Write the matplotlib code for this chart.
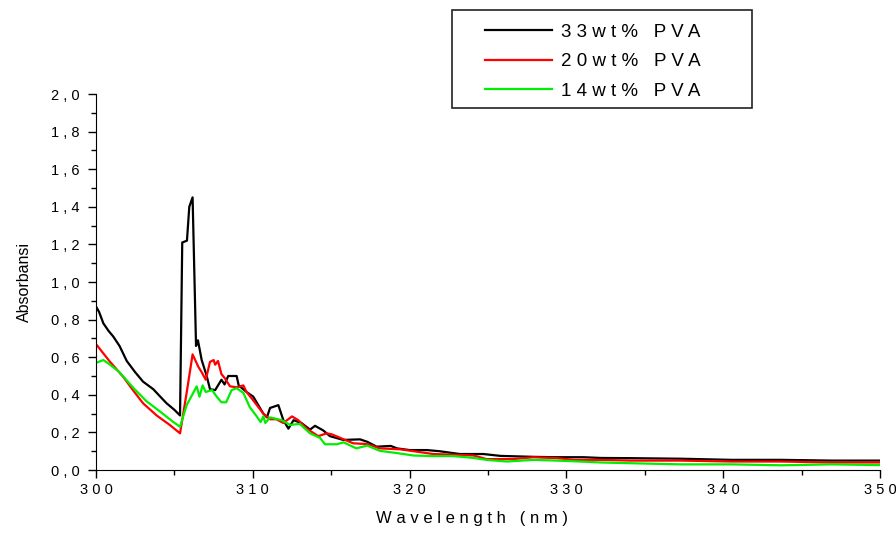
"""Absorbance spectra of PVA samples (33 / 20 / 14 wt%)."""
import matplotlib
matplotlib.use("Agg")
import matplotlib.pyplot as plt
from matplotlib.patches import Rectangle
from matplotlib.ticker import MultipleLocator, FuncFormatter

plt.rcParams["font.family"] = ["Liberation Sans", "DejaVu Sans"]

# wavelength (nm) / absorbance
wl_33 = [300.0, 300.2, 300.47, 300.8, 301.1, 301.5, 301.96, 302.5, 303.0, 303.65, 304.1, 304.5,
         305.0, 305.36, 305.5, 305.8, 305.95, 306.16, 306.38, 306.5, 306.74, 307.06, 307.27,
         307.6, 308.0, 308.2, 308.43, 308.97, 309.1, 309.6, 310.03, 310.67, 310.9, 311.1,
         311.63, 311.95, 312.27, 312.6, 313.1, 313.65, 313.97, 314.5, 314.92, 315.77, 316.84,
         317.3, 317.9, 318.8, 319.2, 320.0, 321.1, 321.9, 323.2, 324.7, 325.8, 327.9, 329.2,
         331.1, 332.2, 334.1, 337.3, 340.5, 343.7, 346.9, 350.0]
abs_33 = [0.87, 0.84, 0.78, 0.74, 0.71, 0.66, 0.58, 0.52, 0.47, 0.43, 0.39, 0.355,
          0.32, 0.29, 1.21, 1.22, 1.40, 1.45, 0.66, 0.69, 0.585, 0.50, 0.43,
          0.425, 0.48, 0.455, 0.50, 0.50, 0.45, 0.415, 0.39, 0.30, 0.28, 0.33,
          0.345, 0.265, 0.22, 0.265, 0.25, 0.215, 0.235, 0.21, 0.18, 0.16, 0.163,
          0.15, 0.124, 0.128, 0.115, 0.106, 0.106, 0.10, 0.085, 0.085, 0.075, 0.07, 0.068,
          0.068, 0.064, 0.063, 0.06, 0.054, 0.054, 0.05, 0.05]

wl_20 = [300.0, 300.47, 300.9, 301.74, 302.4, 303.0, 303.87, 304.7, 305.36, 305.78, 306.16,
         306.52, 306.74, 307.0, 307.27, 307.5, 307.6, 307.78, 308.0, 308.2, 308.55, 308.97,
         309.4, 309.6, 310.03, 310.67, 311.1, 311.5, 311.95, 312.5, 312.9, 313.44, 314.18,
         314.7, 315.03, 315.8, 316.4, 317.3, 318.1, 319.4, 320.25, 321.5, 322.6, 324.1,
         324.9, 326.6, 327.9, 329.4, 330.5, 332.2, 334.1, 337.3, 340.5, 343.7, 346.9, 350.0]
abs_20 = [0.67, 0.62, 0.575, 0.495, 0.42, 0.355, 0.29, 0.24, 0.195, 0.41, 0.615,
          0.55, 0.52, 0.48, 0.575, 0.585, 0.56, 0.58, 0.51, 0.49, 0.445, 0.44,
          0.45, 0.415, 0.37, 0.30, 0.27, 0.27, 0.25, 0.285, 0.265, 0.22, 0.18,
          0.195, 0.19, 0.163, 0.142, 0.138, 0.115, 0.11, 0.10, 0.085, 0.082, 0.077,
          0.058, 0.058, 0.068, 0.063, 0.054, 0.054, 0.05, 0.05, 0.045, 0.045, 0.04, 0.04]

wl_14 = [300.0, 300.47, 300.9, 301.5, 302.4, 303.23, 304.1, 304.9, 305.36, 305.78, 306.2,
         306.42, 306.6, 306.8, 307.0, 307.4, 307.7, 308.0, 308.3, 308.65, 308.97, 309.4,
         309.8, 310.25, 310.5, 310.67, 310.8, 311.1, 311.85, 312.37, 313.0, 313.65, 314.3,
         314.6, 315.35, 315.8, 316.6, 317.3, 318.1, 319.2, 320.25, 321.5, 322.8, 324.1,
         324.9, 326.2, 327.9, 330.1, 332.2, 334.1, 337.3, 340.5, 343.7, 346.9, 350.0]
abs_14 = [0.57, 0.585, 0.56, 0.52, 0.435, 0.365, 0.31, 0.257, 0.23, 0.345, 0.41,
          0.445, 0.39, 0.45, 0.415, 0.425, 0.39, 0.36, 0.36, 0.425, 0.435, 0.41,
          0.335, 0.285, 0.255, 0.285, 0.25, 0.28, 0.265, 0.24, 0.245, 0.195, 0.17,
          0.137, 0.137, 0.147, 0.115, 0.13, 0.102, 0.09, 0.077, 0.074, 0.074, 0.064,
          0.054, 0.045, 0.054, 0.048, 0.04, 0.036, 0.03, 0.03, 0.025, 0.03, 0.026]

labels = ["33wt% PVA", "20wt% PVA", "14wt% PVA"]
colors = ["#000000", "#ff0000", "#00ee00"]


def spaced(s):
    # Origin-style letter spacing
    return " ".join(s)


fig = plt.figure(figsize=(8.96, 5.33), dpi=100)
ax = fig.add_axes([96 / 896, 1 - 470 / 533, 784 / 896, 376 / 533])

lines = []
for x, y, c in [(wl_33, abs_33, colors[0]), (wl_20, abs_20, colors[1]), (wl_14, abs_14, colors[2])]:
    ln, = ax.plot(x, y, color=c, lw=1.6)
    lines.append(ln)

ax.set_xlim(300, 350)
ax.set_ylim(0, 2.0)
ax.spines["top"].set_visible(False)
ax.spines["right"].set_visible(False)
ax.xaxis.set_major_locator(MultipleLocator(10))
ax.xaxis.set_minor_locator(MultipleLocator(5))
ax.yaxis.set_major_locator(MultipleLocator(0.2))
ax.yaxis.set_minor_locator(MultipleLocator(0.1))
ax.xaxis.set_major_formatter(FuncFormatter(lambda v, p: spaced(f"{v:.0f}")))
ax.yaxis.set_major_formatter(FuncFormatter(lambda v, p: spaced(f"{v:.1f}".replace(".", ","))))
ax.tick_params(which="major", direction="out", length=6, width=1, labelsize=10.5)
ax.tick_params(axis="y", which="major", pad=6)
ax.tick_params(which="minor", direction="out", length=3.5, width=1)
ax.set_xlabel(spaced("Wavelength (nm)"), fontsize=12)
ax.xaxis.set_label_coords(0.48, -0.108)
ax.set_ylabel("Absorbansi", fontsize=11.5)
ax.yaxis.set_label_coords(-0.082, 0.5)

# legend: frameless legend + separate box
fig.legend(lines, [spaced(s) for s in labels], loc="upper left",
           bbox_to_anchor=(481 / 896, 1 - 20 / 533), frameon=False,
           fontsize=13.5, handlelength=3.6, handletextpad=0.45, labelspacing=0.66,
           borderpad=0.2, borderaxespad=0)
fig.patches.append(Rectangle((452 / 896, 1 - 108 / 533), 300 / 896, 98 / 533,
                             transform=fig.transFigure, fill=False, edgecolor="#222", lw=1.2))

fig.savefig("out.png", dpi=100)
